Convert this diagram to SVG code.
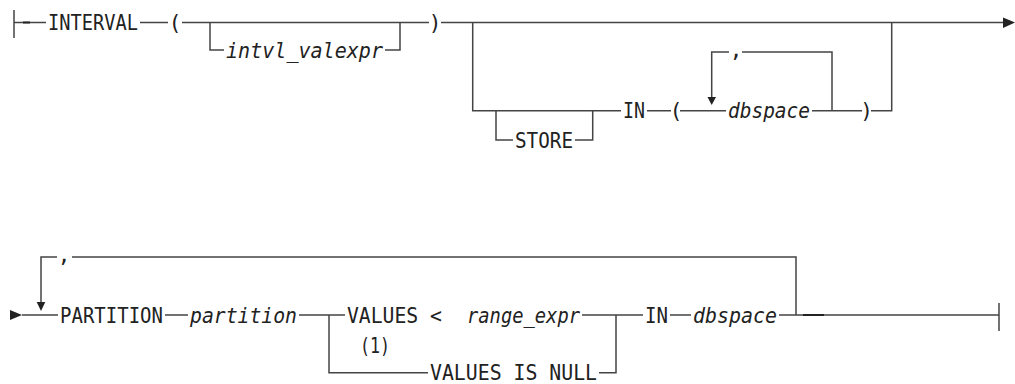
<svg xmlns="http://www.w3.org/2000/svg" width="1015" height="384" viewBox="0 0 1015 384">
<style>
.t{font-family:"DejaVu Sans Mono","Liberation Mono",monospace;font-size:21px;fill:#222;}
.i{font-style:italic;}
.m{text-anchor:middle;}
.c{fill:none;stroke:#444;stroke-width:1.5;}
.d{fill:none;stroke:#222;stroke-width:2;}
.a{fill:#222;stroke:none;}
</style>
<rect width="1015" height="384" fill="#fff"/>
<g id="connectors">
<path class="c" d="M14 10V38M14 22.5H46M140 22.5H168M182 22.5H429M441 22.5H1003"/>
<path class="d" d="M23 22.5H30"/>
<polygon class="a" points="1003,17.5 1003,28 1015,22.5"/>
<path class="c" d="M210 22.5V50H224M385 50H400V22.5"/>
<path class="c" d="M472.7 22.5V110.7H621M647 110.7H671M680 110.7H726M812 110.7H862M871 110.7H891.7V22.5"/>
<path class="c" d="M496 110.7V140H513M575 140H592.7V110.7"/>
<path class="c" d="M832 110.7V52H742M729 52H711.7V97"/>
<polygon class="a" points="707.5,97 716,97 711.7,105"/>
<polygon class="a" points="10,310 10,320 22,315"/>
<path class="c" d="M22 315H58M165 315H188M299 315H345M582 315H643M670 315H691M779 315H999M999 303V331"/>
<path class="d" d="M803 315H824"/>
<path class="c" d="M329 315V372.7H428M599 372.7H616V315"/>
<path class="c" d="M796 315V257H72M57 257H41V302"/>
<polygon class="a" points="36.7,302 45.3,302 41,311"/>
</g>
<g id="n-interval"><text class="t" x="48" y="30" textLength="90" lengthAdjust="spacingAndGlyphs">INTERVAL</text></g>
<g id="n-lparen1"><text class="t m" x="175" y="30">(</text></g>
<g id="n-intvl"><text class="t i" x="226" y="57.5" textLength="157" lengthAdjust="spacingAndGlyphs">intvl_valexpr</text></g>
<g id="n-rparen1"><text class="t m" x="435" y="30">)</text></g>
<g id="n-store"><text class="t" x="515" y="147.5" textLength="58" lengthAdjust="spacingAndGlyphs">STORE</text></g>
<g id="n-in1"><text class="t" x="623" y="118" textLength="22" lengthAdjust="spacingAndGlyphs">IN</text></g>
<g id="n-lparen2"><text class="t m" x="676" y="118">(</text></g>
<g id="n-dbspace1"><text class="t i" x="728" y="118" textLength="82" lengthAdjust="spacingAndGlyphs">dbspace</text></g>
<g id="n-rparen2"><text class="t m" x="866.5" y="118">)</text></g>
<g id="n-comma1"><text class="t m" x="736" y="57">,</text></g>
<g id="n-partition-kw"><text class="t" x="60" y="322.5" textLength="103" lengthAdjust="spacingAndGlyphs">PARTITION</text></g>
<g id="n-partition"><text class="t i" x="190" y="322.5" textLength="107" lengthAdjust="spacingAndGlyphs">partition</text></g>
<g id="n-values-lt"><text class="t" x="347" y="322.5" textLength="95" lengthAdjust="spacingAndGlyphs">VALUES &lt;</text></g>
<g id="n-range"><text class="t i" x="467" y="322.5" textLength="113" lengthAdjust="spacingAndGlyphs">range_expr</text></g>
<g id="n-note"><text class="t" x="360" y="353" textLength="30" lengthAdjust="spacingAndGlyphs">(1)</text></g>
<g id="n-values-null"><text class="t" x="430" y="380" textLength="167" lengthAdjust="spacingAndGlyphs">VALUES IS NULL</text></g>
<g id="n-in2"><text class="t" x="645" y="322.5" textLength="23" lengthAdjust="spacingAndGlyphs">IN</text></g>
<g id="n-dbspace2"><text class="t i" x="693" y="322.5" textLength="84" lengthAdjust="spacingAndGlyphs">dbspace</text></g>
<g id="n-comma2"><text class="t m" x="64" y="262">,</text></g>
</svg>
